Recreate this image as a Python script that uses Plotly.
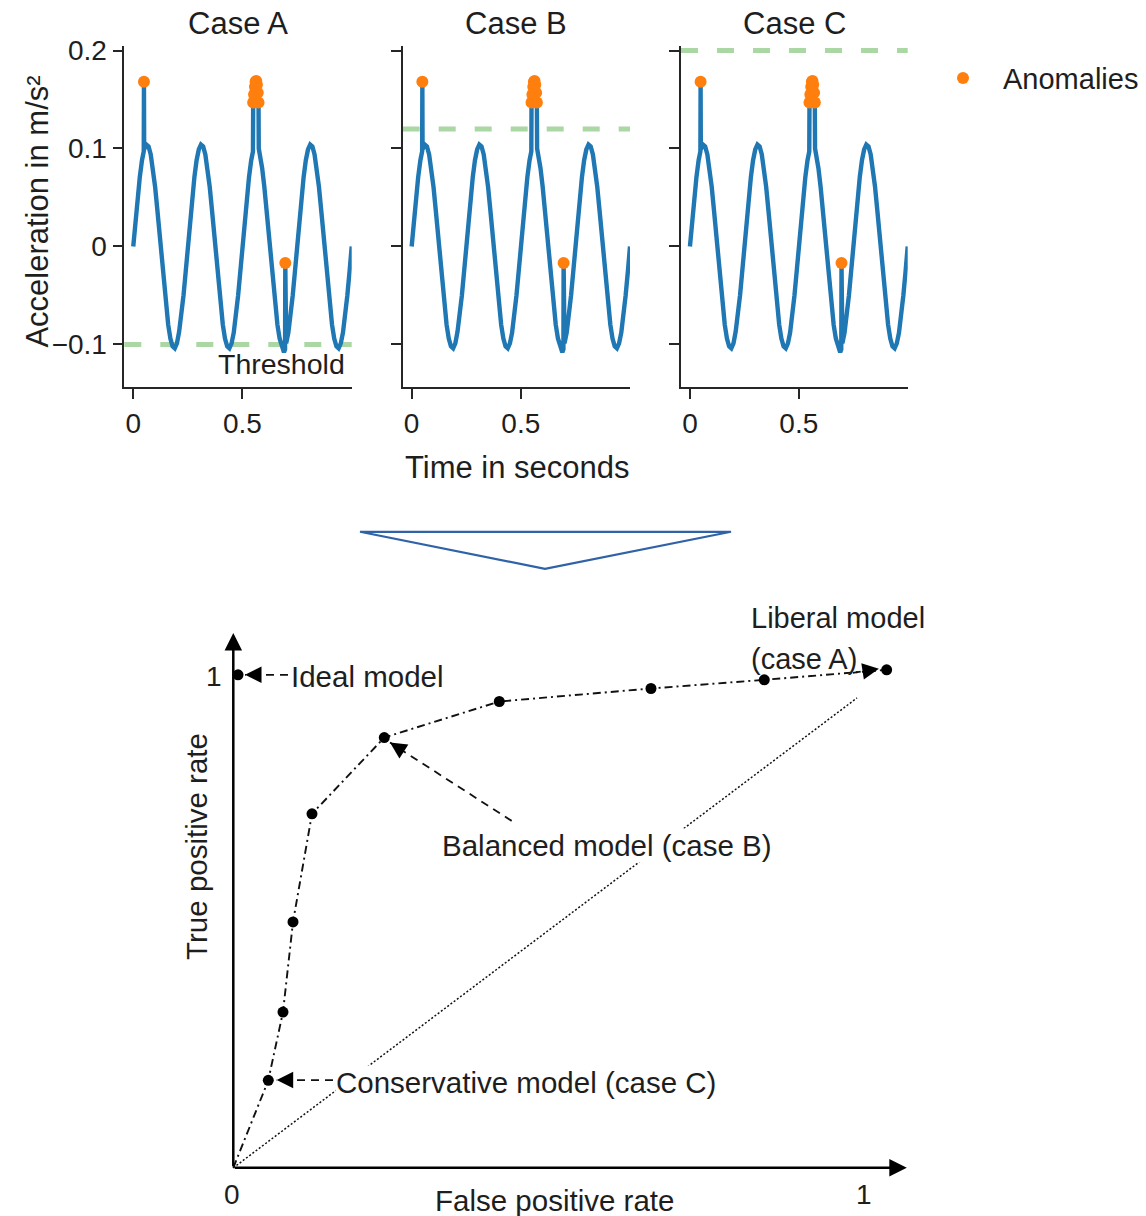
import math
import plotly.graph_objects as go

# ---------------- data ----------------
CASES = ["Case A", "Case B", "Case C"]
THRESHOLDS = [-0.1, 0.12, 0.2]

TIME_S = [
    0.00, 0.01, 0.02, 0.03, 0.04, 0.048, 0.049, 0.050, 0.06, 0.07, 0.08, 0.09,
    0.10, 0.11, 0.12, 0.13, 0.14, 0.15, 0.16, 0.17, 0.18, 0.19, 0.20, 0.21,
    0.22, 0.23, 0.24,
    0.25, 0.26, 0.27, 0.28, 0.29, 0.30, 0.31, 0.32, 0.33, 0.34, 0.35, 0.36,
    0.37, 0.38, 0.39, 0.40, 0.41, 0.42, 0.43, 0.44, 0.45, 0.46, 0.47, 0.48,
    0.49,
    0.50, 0.51, 0.52, 0.53, 0.54, 0.548, 0.549, 0.553, 0.557, 0.560, 0.563,
    0.566, 0.570, 0.5735, 0.5745, 0.58, 0.59, 0.60, 0.61, 0.62, 0.63, 0.64,
    0.65, 0.66, 0.67, 0.68, 0.69, 0.695, 0.696, 0.697, 0.70, 0.71, 0.72,
    0.73, 0.74,
    0.75, 0.76, 0.77, 0.78, 0.79, 0.80, 0.81, 0.82, 0.83, 0.84, 0.85, 0.86,
    0.87, 0.88, 0.89, 0.90, 0.91, 0.92, 0.93, 0.94, 0.95, 0.96, 0.97, 0.98,
    0.99, 1.00,
]
ACCEL = [
    0.000, 0.027, 0.050, 0.071, 0.088, 0.097, 0.168, 0.099, 0.104, 0.102, 0.094, 0.080,
    0.061, 0.038, 0.013, -0.013, -0.038, -0.062, -0.080, -0.094, -0.102, -0.104, -0.099, -0.087,
    -0.071, -0.050, -0.026,
    0.000, 0.026, 0.050, 0.071, 0.088, 0.099, 0.104, 0.102, 0.094, 0.080, 0.061, 0.038,
    0.013, -0.013, -0.038, -0.061, -0.080, -0.094, -0.102, -0.104, -0.099, -0.088, -0.071, -0.050,
    -0.026,
    0.000, 0.026, 0.050, 0.071, 0.088, 0.097, 0.147, 0.155, 0.163, 0.168, 0.169,
    0.165, 0.157, 0.147, 0.100, 0.094, 0.080, 0.061, 0.038, 0.013, -0.013, -0.038,
    -0.061, -0.080, -0.094, -0.102, -0.108, -0.105, -0.017, -0.103, -0.099, -0.088, -0.071,
    -0.050, -0.026,
    0.000, 0.026, 0.050, 0.071, 0.088, 0.099, 0.104, 0.102, 0.094, 0.080, 0.061, 0.038,
    0.013, -0.013, -0.038, -0.061, -0.080, -0.094, -0.102, -0.104, -0.099, -0.088, -0.071, -0.050,
    -0.026, 0.000,
]
ANOM_T = [0.049, 0.549, 0.553, 0.557, 0.560, 0.563, 0.566, 0.570, 0.5735, 0.696]
ANOM_V = [0.168, 0.147, 0.155, 0.163, 0.168, 0.169, 0.165, 0.157, 0.147, -0.017]

X_TICKS = [0, 0.5]
X_TICK_TEXT = ["0", "0.5"]
Y_TICKS = [-0.1, 0, 0.1, 0.2]
Y_TICK_TEXT = ["\u22120.1", "0", "0.1", "0.2"]

# ROC curve (false positive rate, true positive rate)
ROC_FPR = [0.0, 0.0555, 0.0788, 0.0947, 0.1248, 0.2394, 0.4218, 0.6623, 0.842, 1.036]
ROC_TPR = [0.0, 0.1774, 0.316, 0.4987, 0.718, 0.8727, 0.9458, 0.9722, 0.9898, 1.0101]
IDEAL_FPR = [0.0075]
IDEAL_TPR = [1.0]
DIAG_FPR = [0.0, 0.989]
DIAG_TPR = [0.0, 0.953]

# ---------------- style ----------------
FONT = "Liberation Sans, Arial, sans-serif"
TXT = "#1e1e1e"
BLUE = "#1f77b4"
ORANGE = "#ff7f0e"
GREEN = "#abd7a4"
AX = "#262626"

W, H = 1146, 1216


def fx(px):
    return px / W


def fy(px):
    # paper fraction for a target pixel row (small empirical correction)
    return 1 - ((px - 10.5) / 0.9904) / H


fig = go.Figure()

x_domains = [[fx(124.3), fx(351.7)], [fx(402.7), fx(630.0)], [fx(681.0), fx(907.7)]]
y_domain = [fy(386.5), fy(45.98)]

for i, thr in enumerate(THRESHOLDS):
    sfx = "" if i == 0 else str(i + 1)
    xa, ya = "x" + sfx, "y" + sfx
    fig.add_trace(go.Scatter(x=TIME_S, y=ACCEL, mode="lines",
                             line=dict(color=BLUE, width=4.4),
                             showlegend=False, xaxis=xa, yaxis=ya, hoverinfo="skip"))
    fig.add_trace(go.Scatter(x=ANOM_T, y=ANOM_V, mode="markers", name="Anomalies",
                             marker=dict(color=ORANGE, size=12),
                             showlegend=(i == 0), xaxis=xa, yaxis=ya))
    fig.add_shape(type="line", xref=xa + " domain", yref=ya, x0=0, x1=1, y0=thr, y1=thr,
                  line=dict(color=GREEN, width=5, dash="17px,19px"), layer="below")
    common = dict(showline=True, linecolor=AX, linewidth=1.5, ticks="outside", ticklen=10,
                  tickwidth=1.5, tickcolor=AX, showgrid=False, zeroline=False,
                  tickfont=dict(family=FONT, size=28, color=TXT))
    fig.layout["xaxis" + sfx] = dict(domain=x_domains[i], range=[-0.041, 1.0], anchor=ya,
                                     tickvals=X_TICKS, ticktext=X_TICK_TEXT,
                                     ticklabelstandoff=0, **common)
    fig.layout["yaxis" + sfx] = dict(domain=y_domain, range=[-0.1437, 0.2041], anchor=xa,
                                     tickvals=Y_TICKS, ticktext=Y_TICK_TEXT,
                                     showticklabels=(i == 0), **common)
    fig.add_annotation(text=CASES[i], xref=xa + " domain", yref="paper", x=0.5, y=fy(23),
                       showarrow=False, xanchor="center", yanchor="middle",
                       font=dict(family=FONT, size=31, color=TXT))

fig.add_annotation(text="Threshold", xref="x", yref="y", x=0.98, y=-0.1197, showarrow=False,
                   xanchor="right", yanchor="middle", font=dict(family=FONT, size=28.5, color=TXT))
fig.add_annotation(text="Acceleration in m/s\u00b2", xref="paper", yref="paper", x=fx(38),
                   y=fy(211), textangle=-90, showarrow=False, xanchor="center", yanchor="middle",
                   font=dict(family=FONT, size=31, color=TXT))
fig.add_annotation(text="Time in seconds", xref="paper", yref="paper", x=fx(517), y=fy(467),
                   showarrow=False, xanchor="center", yanchor="middle",
                   font=dict(family=FONT, size=31, color=TXT))

# big hollow arrow (triangle)
fig.add_shape(type="path", xref="paper", yref="paper",
              path="M {:.5f} {:.5f} L {:.5f} {:.5f} L {:.5f} {:.5f} Z".format(
                  fx(360), fy(531), fx(731), fy(531), fx(545), fy(568)),
              line=dict(color="#2f62a6", width=2.2), fillcolor="rgba(0,0,0,0)")

# ---------------- ROC ----------------
fig.layout["xaxis4"] = dict(domain=[fx(180), fx(940)], range=[-0.0845, 1.1206], anchor="y4",
                            visible=False)
fig.layout["yaxis4"] = dict(domain=[fy(1200), fy(600)], range=[-0.0676, 1.150], anchor="x4",
                            visible=False)
PXX, PXY = 630.7, 492.8  # pixels per unit on the ROC axes

fig.add_trace(go.Scatter(x=DIAG_FPR, y=DIAG_TPR, mode="lines", xaxis="x4", yaxis="y4",
                         line=dict(color="#111", width=1.5, dash="2px,2px"),
                         showlegend=False, hoverinfo="skip"))
fig.add_trace(go.Scatter(x=ROC_FPR, y=ROC_TPR, mode="lines", xaxis="x4", yaxis="y4",
                         line=dict(color="#111", width=1.9, dash="8px,4px,2px,4px"),
                         showlegend=False, hoverinfo="skip"))
fig.add_trace(go.Scatter(x=ROC_FPR[1:], y=ROC_TPR[1:], mode="markers", xaxis="x4", yaxis="y4",
                         marker=dict(color="#000", size=11), showlegend=False))
fig.add_trace(go.Scatter(x=IDEAL_FPR, y=IDEAL_TPR, mode="markers", xaxis="x4", yaxis="y4",
                         marker=dict(color="#000", size=11), showlegend=False))

# axes with arrow heads
for tip in [(0.0, 1.085), (1.068, 0.0)]:
    fig.add_annotation(x=tip[0], y=tip[1], ax=0, ay=0, xref="x4", yref="y4", axref="x4",
                       ayref="y4", text="", showarrow=True, arrowhead=2, arrowsize=1.4,
                       arrowwidth=2.5, arrowcolor="#000", standoff=0, startstandoff=0)

# dashed pointer arrows: (tail, tip)
pointers = [
    ((0.0867, 1.0), (0.0186, 1.0)),
    ((0.9823, 1.004), (1.0237, 1.0122)),
    ((0.4414, 0.7037), (0.2485, 0.8626)),
    ((0.1581, 0.178), (0.0688, 0.178)),
]
for tail, tip in pointers:
    fig.add_shape(type="line", xref="x4", yref="y4", x0=tail[0], y0=tail[1], x1=tip[0], y1=tip[1],
                  line=dict(color="#111", width=1.8, dash="8px,6px"))
    dx = (tail[0] - tip[0]) * PXX
    dy = -(tail[1] - tip[1]) * PXY
    n = math.hypot(dx, dy)
    fig.add_annotation(x=tip[0], y=tip[1], xref="x4", yref="y4", ax=dx / n * 16, ay=dy / n * 16,
                       text="", showarrow=True, arrowhead=2, arrowsize=2.2, arrowwidth=1.5,
                       arrowcolor="#000", standoff=0, startstandoff=0)

roc_texts = [
    ("Ideal model", 0.0899, 0.9959, None, 29.5),
    ("Liberal model", 0.8192, 1.1157, None, 29),
    ("(case A)", 0.8192, 1.0325, None, 29),
    ("Balanced model (case B)", 0.3293, 0.6529, "white", 29.5),
    ("Conservative model (case C)", 0.1612, 0.1739, "white", 29.5),
]
for t, x, y, bg, fs in roc_texts:
    fig.add_annotation(text=t, x=x, y=y, xref="x4", yref="y4", showarrow=False, xanchor="left",
                       yanchor="middle", bgcolor=bg, borderpad=0,
                       font=dict(family=FONT, size=fs, color=TXT))

for t, x, y in [("0", -0.002, -0.0534), ("1", 1.0, -0.0534), ("1", -0.0306, 0.9963)]:
    fig.add_annotation(text=t, x=x, y=y, xref="x4", yref="y4", showarrow=False,
                       xanchor="center", yanchor="middle", font=dict(family=FONT, size=28, color=TXT))

fig.add_annotation(text="True positive rate", x=-0.0576, y=0.6529, xref="x4", yref="y4",
                   textangle=-90, showarrow=False, xanchor="center", yanchor="middle",
                   font=dict(family=FONT, size=29.5, color=TXT))
fig.add_annotation(text="False positive rate", x=0.5096, y=-0.0663, xref="x4", yref="y4",
                   showarrow=False, xanchor="center", yanchor="middle",
                   font=dict(family=FONT, size=29.5, color=TXT))

fig.update_layout(
    width=W, height=H, margin=dict(l=0, r=0, t=0, b=0),
    paper_bgcolor="white", plot_bgcolor="white",
    showlegend=True,
    legend=dict(x=fx(923), y=fy(77.7), xanchor="left", yanchor="middle", itemwidth=70,
                font=dict(family=FONT, size=29, color=TXT), bgcolor="rgba(0,0,0,0)"),
)

fig.write_html("out.html")
